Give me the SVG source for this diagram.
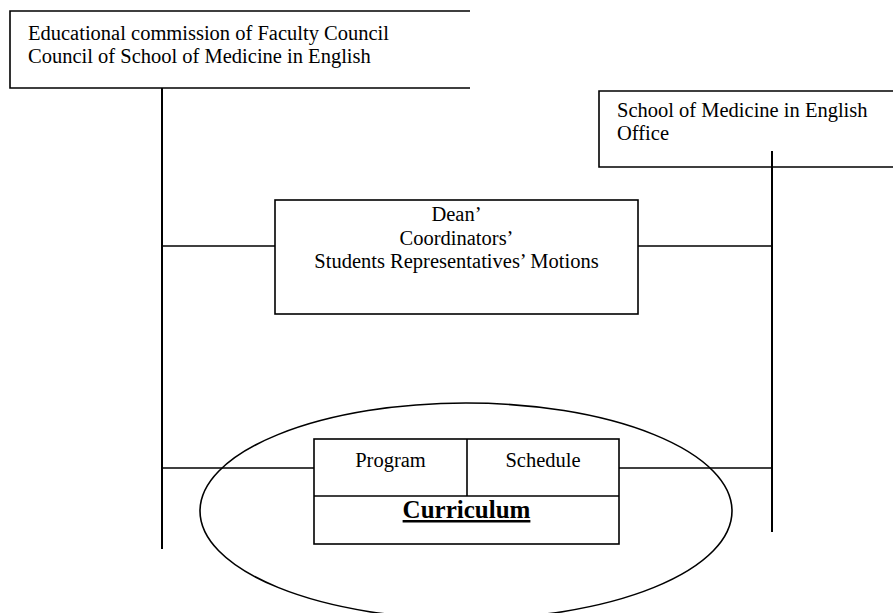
<svg xmlns="http://www.w3.org/2000/svg" width="893" height="613" viewBox="0 0 893 613">
<style>
.box{fill:#fff;stroke:#000;stroke-width:1.6}
.ln{fill:none;stroke:#000;stroke-width:1.6}
.vl{fill:none;stroke:#000;stroke-width:2}
text{font-family:'Liberation Serif','Times New Roman',Tinos,'DejaVu Serif',serif;font-size:20.5px;fill:#000}
.c{text-anchor:middle}
.b{font-weight:bold;font-size:25px;text-decoration:underline}
</style>
<rect width="893" height="613" fill="#fff"/>
<g id="council">
<path class="box" d="M470 11 H10 V88 H470"/>
<text x="28" y="40">Educational commission of Faculty Council</text>
<text x="28" y="63">Council of School of Medicine in English</text>
</g>
<g id="office">
<path class="box" d="M895 91 H599 V167 H895"/>
<text x="617" y="117">School of Medicine in English</text>
<text x="617" y="140">Office</text>
</g>
<g id="motions">
<rect class="box" x="275" y="200" width="363" height="114"/>
<text class="c" x="456.5" y="221">Dean’</text>
<text class="c" x="456.5" y="245">Coordinators’</text>
<text class="c" x="456.5" y="268">Students Representatives’ Motions</text>
</g>
<g id="curriculum">
<ellipse class="ln" cx="466" cy="511" rx="266" ry="108"/>
<rect class="box" x="314" y="439" width="305" height="105"/>
<line class="ln" x1="314" y1="496" x2="619" y2="496"/>
<line class="ln" x1="467" y1="439" x2="467" y2="496"/>
<text class="c" x="390.5" y="467">Program</text>
<text class="c" x="543" y="467">Schedule</text>
<text class="c b" x="466.5" y="518">Curriculum</text>
</g>
<g id="connectors">
<line class="vl" x1="162" y1="88" x2="162" y2="549"/>
<line class="vl" x1="772" y1="151" x2="772" y2="532"/>
<line class="ln" x1="162" y1="246" x2="275" y2="246"/>
<line class="ln" x1="638" y1="246" x2="772" y2="246"/>
<line class="ln" x1="162" y1="468" x2="314" y2="468"/>
<line class="ln" x1="619" y1="468" x2="772" y2="468"/>
</g>
</svg>
